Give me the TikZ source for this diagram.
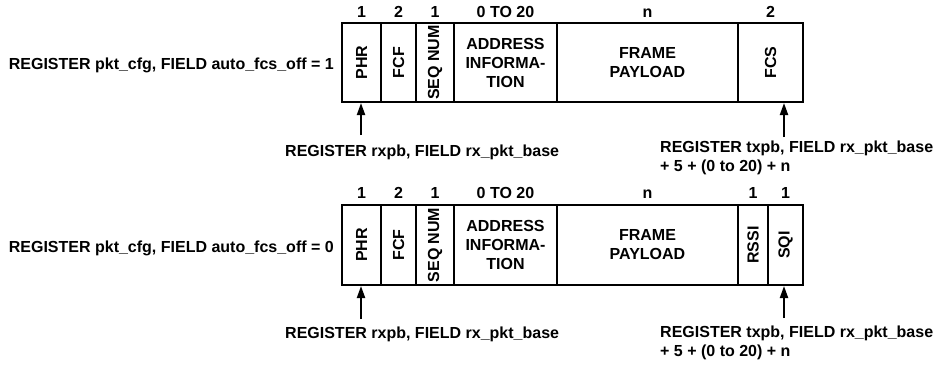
\documentclass[tikz,border=0pt]{standalone}
\usepackage{fontspec}
\setmainfont{Liberation Sans}
\usetikzlibrary{arrows.meta}
\begin{document}
\begin{tikzpicture}[x=1pt,y=-1pt,
  every node/.style={font=\fontsize{16}{19}\selectfont\bfseries, inner sep=0pt},
  field/.style={draw, line width=2pt, anchor=north west, align=center},
  num/.style={anchor=base},
  arr/.style={line width=2pt, -{Triangle[length=12pt,width=8pt]}},
  lbl/.style={anchor=base west},
  lbl2/.style={anchor=north west, align=left}
]
\useasboundingbox (0,0) rectangle (936,364);

% ---------- top row ----------
\node[field, minimum width=39pt, minimum height=79pt] (phrA)  at (341,22) {\rotatebox{90}{PHR}};
\node[field, minimum width=35pt, minimum height=79pt] (fcfA)  at (380,22) {\rotatebox{90}{FCF}};
\node[field, minimum width=38pt, minimum height=79pt] (seqA)  at (415,22) {\rotatebox{90}{SEQ NUM}};
\node[field, minimum width=103pt, minimum height=79pt] (addrA) at (453,22) {ADDRESS\\INFORMA-\\TION};
\node[field, minimum width=181pt, minimum height=79pt] (payA)  at (556,22) {FRAME\\PAYLOAD};
\node[field, minimum width=65pt, minimum height=79pt] (fcsA)  at (737,22) {\rotatebox{90}{FCS}};

\node[num] (nA1) at ([yshift=5pt]phrA.north)  {1};
\node[num] (nA2) at ([yshift=5pt]fcfA.north)  {2};
\node[num] (nA3) at ([yshift=5pt]seqA.north)  {1};
\node[num] (nA4) at ([yshift=5pt]addrA.north) {0 TO 20};
\node[num] (nA5) at ([yshift=5pt]payA.north)  {n};
\node[num] (nA6) at ([yshift=5pt]fcsA.north)  {2};

\node[anchor=base east] (cfgA) at (334,69) {REGISTER pkt\_cfg, FIELD auto\_fcs\_off = 1};

\coordinate (tA1) at (361,135);
\coordinate (tA2) at (784,137);
\draw[arr] (tA1) -- (tA1 |- phrA.south);
\draw[arr] (tA2) -- (tA2 |- fcsA.south);
\node[lbl] (rxA) at (285,156) {REGISTER rxpb, FIELD rx\_pkt\_base};
\node[lbl2] (txA) at (660,141) {REGISTER txpb, FIELD rx\_pkt\_base\\+ 5 + (0 to 20) + n};

% ---------- bottom row ----------
\node[field, minimum width=39pt, minimum height=80pt] (phrB)  at (341,204) {\rotatebox{90}{PHR}};
\node[field, minimum width=35pt, minimum height=80pt] (fcfB)  at (380,204) {\rotatebox{90}{FCF}};
\node[field, minimum width=38pt, minimum height=80pt] (seqB)  at (415,204) {\rotatebox{90}{SEQ NUM}};
\node[field, minimum width=103pt, minimum height=80pt] (addrB) at (453,204) {ADDRESS\\INFORMA-\\TION};
\node[field, minimum width=181pt, minimum height=80pt] (payB)  at (556,204) {FRAME\\PAYLOAD};
\node[field, minimum width=30pt, minimum height=80pt] (rssiB) at (737,204) {\rotatebox{90}{RSSI}};
\node[field, minimum width=35pt, minimum height=80pt] (sqiB)  at (767,204) {\rotatebox{90}{SQI}};

\node[num] (nB1) at ([yshift=6pt]phrB.north)  {1};
\node[num] (nB2) at ([yshift=6pt]fcfB.north)  {2};
\node[num] (nB3) at ([yshift=6pt]seqB.north)  {1};
\node[num] (nB4) at ([yshift=6pt]addrB.north) {0 TO 20};
\node[num] (nB5) at ([yshift=6pt]payB.north)  {n};
\node[num] (nB6) at ([yshift=6pt]rssiB.north) {1};
\node[num] (nB7) at ([yshift=6pt]sqiB.north)  {1};

\node[anchor=base east] (cfgB) at (334,252) {REGISTER pkt\_cfg, FIELD auto\_fcs\_off = 0};

\coordinate (tB1) at (361,319);
\coordinate (tB2) at (784,318);
\draw[arr] (tB1) -- (tB1 |- phrB.south);
\draw[arr] (tB2) -- (tB2 |- sqiB.south);
\node[lbl] (rxB) at (285,338) {REGISTER rxpb, FIELD rx\_pkt\_base};
\node[lbl2] (txB) at (660,326) {REGISTER txpb, FIELD rx\_pkt\_base\\+ 5 + (0 to 20) + n};
\end{tikzpicture}
\end{document}
